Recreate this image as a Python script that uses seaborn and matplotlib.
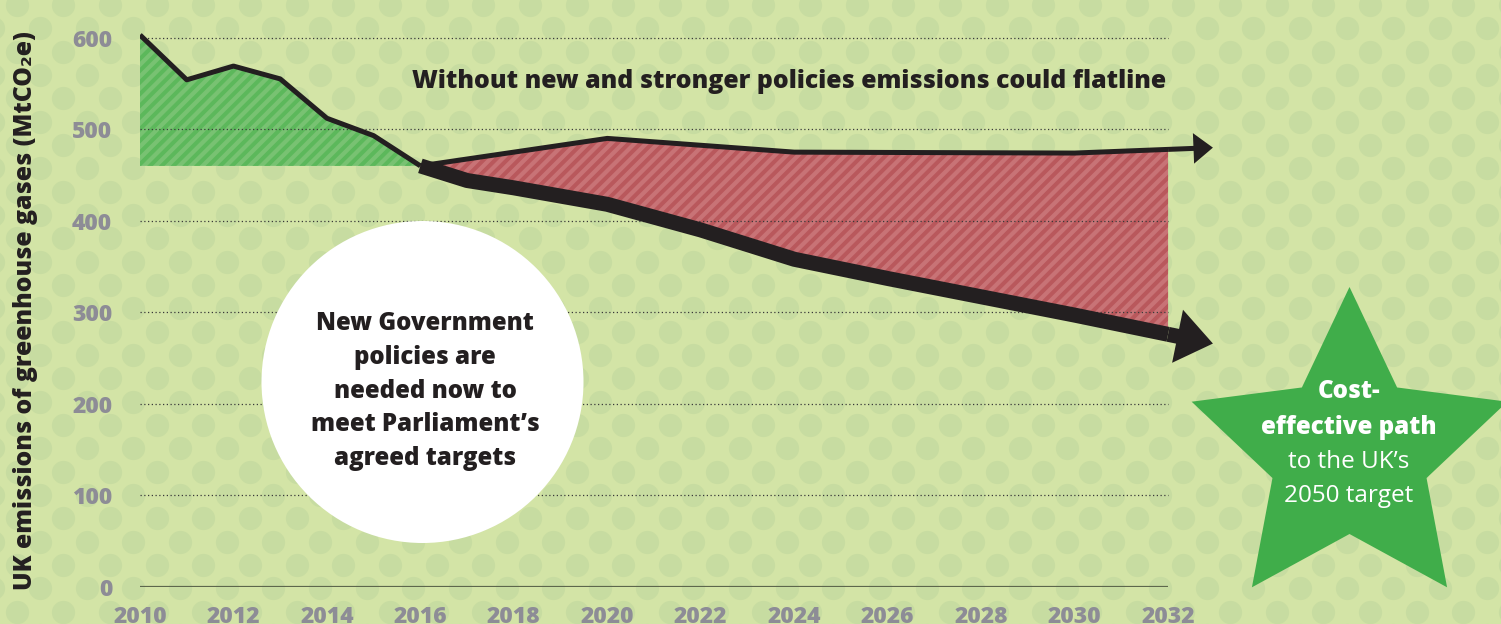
import numpy as np
import seaborn as sns
import matplotlib.pyplot as plt
from matplotlib.patches import Circle, Polygon
from matplotlib.collections import LineCollection

# --- data (MtCO2e) ---
years_hist = [2010, 2011, 2012, 2013, 2014, 2015, 2016]
emis_hist = [603, 554, 569, 555, 512, 493, 460]

flat_years = [2016, 2020, 2024, 2030, 2032]
flat_emis = [460, 490, 475, 474, 478]

cost_years = [2016, 2017, 2018, 2020, 2022, 2024, 2026, 2028, 2030, 2032]
cost_emis = [460, 444, 436, 418, 390, 358, 337, 317, 297, 276]

y_ticks = [0, 100, 200, 300, 400, 500, 600]
x_ticks = list(range(2010, 2033, 2))

title_txt = "Without new and stronger policies emissions could flatline"
circle_txt = "New Government\npolicies are\nneeded now to\nmeet Parliament\u2019s\nagreed targets"
ylabel_txt = "UK emissions of greenhouse gases (MtCO\u2082e)"

# colours
BG = "#d3e4a6"
DOT = "#c7dca1"
GREEN_FILL = "#78c272"
GREEN_STRIPE = "#5cb85b"
RED_FILL = "#c87376"
RED_STRIPE = "#b9585c"
STAR = "#40ad4a"
INK = "#231f20"
TICK = "#8d8c96"

sns.set_theme(style="white")
plt.rcParams['font.family'] = ['Open Sans', 'DejaVu Sans']

W, H = 1501, 624
fig = plt.figure(figsize=(W / 100, H / 100), dpi=100)
fig.patch.set_facecolor(BG)

# background layer in pixel coordinates (polka dots, star, title)
ax_bg = fig.add_axes([0, 0, 1, 1])
ax_bg.set_xlim(0, W)
ax_bg.set_ylim(H, 0)
ax_bg.axis("off")
ax_bg.set_zorder(0)

step = 70 / 3
ii, jj = np.meshgrid(np.arange(-6, 66), np.arange(-24, 6))
keep = (ii + jj) % 2 == 0
ax_bg.scatter(110 + step * ii[keep], 518.3 + step * jj[keep], s=280,
              color=DOT, linewidths=0)

# star
cx, cy, r_out, r_in = 1349.5, 453, 166, 81
ang = np.deg2rad(-90 + 36 * np.arange(10))
rad = np.where(np.arange(10) % 2 == 0, r_out, r_in)
ax_bg.add_patch(Polygon(np.c_[cx + rad * np.cos(ang), cy + rad * np.sin(ang)],
                        closed=True, facecolor=STAR, edgecolor="none"))
for txt, yy, wt, fs in [("Cost-", 392, "heavy", 17.4), ("effective path", 427, "heavy", 17.4),
                        ("to the UK\u2019s", 462, "normal", 17.5),
                        ("2050 target", 496, "normal", 17.5)]:
    ax_bg.text(1349, yy, txt, ha="center", va="center", fontsize=fs,
               fontweight=wt, color="white")

ax_bg.text(1166, 82, title_txt, ha="right", va="center", fontsize=17.9,
           fontweight="heavy", color=INK)

# main chart axes: 2010 at x=140px, 0 at y=587px
px_year = 46.73
px_unit = 0.9155
ax = fig.add_axes([140 / W, (H - 587) / H, 23 * px_year / W, 640 * px_unit / H])
ax.set_zorder(1)
ax.patch.set_facecolor("none")
ax.set_xlim(2010, 2033)
ax.set_ylim(0, 640)
for s in ax.spines.values():
    s.set_visible(False)

# shaded areas
green = ax.fill(years_hist + [years_hist[0]], emis_hist + [emis_hist[-1]],
                facecolor=GREEN_FILL, edgecolor="none", zorder=2)[0]
red = ax.fill(flat_years + cost_years[::-1], flat_emis + cost_emis[::-1],
              facecolor=RED_FILL, edgecolor="none", zorder=2)[0]

# diagonal stripes, clipped to the areas
gap = 11.7
segs = [[(c, 0), (c - H, H)] for c in np.arange(0, W + H, gap)]
for patch, col in [(green, GREEN_STRIPE), (red, RED_STRIPE)]:
    lc = LineCollection(segs, colors=col, linewidths=2.9,
                        transform=ax_bg.transData, zorder=2.1)
    ax.add_collection(lc, autolim=False)
    lc.set_clip_path(patch)

# gridlines and baseline
ax.hlines(y_ticks[1:], x_ticks[0], x_ticks[-1], colors="#3a3a3a",
          linestyles=(0, (1, 2)), linewidth=0.9, zorder=2.5)
ax.hlines(0, x_ticks[0], x_ticks[-1], colors="#5d674c", linewidth=1.6, zorder=2.5)

# white bubble
ax.add_patch(Circle((422.5, 382), 161, transform=ax_bg.transData,
                    facecolor="white", edgecolor="none", zorder=3, clip_on=False))
ax.text(425, 391, circle_txt, transform=ax_bg.transData, ha="center", va="center",
        fontsize=17.3, fontweight="heavy", color=INK, linespacing=1.47, zorder=3.1)

# lines
sns.lineplot(x=years_hist, y=emis_hist, ax=ax, color=INK, linewidth=3.6,
             sort=False, solid_capstyle="butt", zorder=4)
sns.lineplot(x=flat_years, y=flat_emis, ax=ax, color=INK, linewidth=3.6,
             sort=False, solid_capstyle="butt", zorder=4)
sns.lineplot(x=cost_years, y=cost_emis, ax=ax, color=INK, linewidth=10.8,
             sort=False, solid_capstyle="butt", zorder=4)


def arrow_head(xs, ys, lw, head_len, head_w, ext_frac, reach=0.96):
    slope = (ys[-1] - ys[-2]) / (xs[-1] - xs[-2])
    tip = (xs[-1] + reach, ys[-1] + slope * reach)
    ext = (xs[-1] + reach * ext_frac, ys[-1] + slope * reach * ext_frac)
    ax.plot([xs[-1], ext[0]], [ys[-1], ext[1]], color=INK, linewidth=lw,
            solid_capstyle="butt", zorder=4, clip_on=False)
    ax.annotate("", xy=tip, xytext=ext,
                arrowprops=dict(arrowstyle=f"-|>,head_length={head_len},head_width={head_w}",
                                mutation_scale=1, lw=0, color=INK,
                                shrinkA=0, shrinkB=0),
                zorder=4, annotation_clip=False)


arrow_head(flat_years, flat_emis, 3.6, 14, 11, 0.7)
arrow_head(cost_years, cost_emis, 10.8, 26, 19.5, 0.5)

# ticks and labels
ax.set_xticks(x_ticks)
ax.set_yticks(y_ticks)
ax.tick_params(length=0, labelsize=16.5, labelcolor=TICK)
ax.tick_params(axis="x", pad=13)
ax.tick_params(axis="y", pad=20)
for lbl in ax.get_xticklabels() + ax.get_yticklabels():
    lbl.set_fontweight("heavy")
ax.grid(False)
ax.set_xlabel("")
ax.set_ylabel(ylabel_txt, fontsize=17.8, fontweight="heavy", color=INK)
ax.yaxis.set_label_coords(-0.095, 0.471)

fig.savefig("out.png", dpi=100, facecolor=BG)
